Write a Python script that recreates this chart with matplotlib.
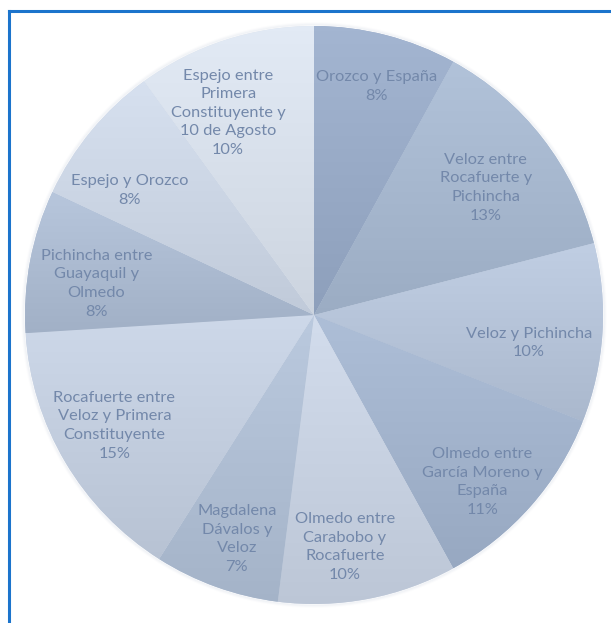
import numpy as np
import matplotlib
matplotlib.use("Agg")
import matplotlib.pyplot as plt
from matplotlib.colors import to_rgb
from matplotlib.lines import Line2D

# Share of each street segment
labels = [
    "Orozco y España",
    "Veloz entre\nRocafuerte y\nPichincha",
    "Veloz y Pichincha",
    "Olmedo entre\nGarcía Moreno y\nEspaña",
    "Olmedo entre\nCarabobo y\nRocafuerte",
    "Magdalena\nDávalos y\nVeloz",
    "Rocafuerte entre\nVeloz y Primera\nConstituyente",
    "Pichincha entre\nGuayaquil y\nOlmedo",
    "Espejo y Orozco",
    "Espejo entre\nPrimera\nConstituyente y\n10 de Agosto",
]
shares = [8, 13, 10, 11, 10, 7, 15, 8, 8, 10]

slice_colors = ["#99abc7", "#a7b8cf", "#b6c4d9", "#a3b4cd", "#c8d2e2",
                "#b0bfd4", "#c3cedf", "#adbcd2", "#ccd6e5", "#d8e0eb"]

# label placement: radius as fraction of pie radius, angular nudge (deg)
label_r = [0.82, 0.74, 0.75, 0.82, 0.81, 0.82, 0.79, 0.76, 0.77, 0.76]
label_dang = [-1.0, -1.3, -3.8, -3.4, -3.2, 0.8, -1.6, 2.6, 5.6, 5.0]

W, H = 611, 623
fig = plt.figure(figsize=(W / 100, H / 100), dpi=100)
ax = fig.add_axes([0, 0, 1, 1])

cx, cy, R = 314, H - 315, 289

wedges, _ = ax.pie(shares, colors=slice_colors, startangle=90,
                   counterclock=False, center=(cx, cy), radius=R,
                   frame=True, wedgeprops=dict(linewidth=0))
ax.set_xlim(0, W)
ax.set_ylim(0, H)
ax.set_aspect("equal")
ax.axis("off")

# vertical shading inside each slice: lighter at the top, darker at the bottom
for w, c in zip(wedges, slice_colors):
    base = np.array(to_rgb(c))
    bb = w.get_path().get_extents(w.get_transform()).transformed(ax.transData.inverted())
    x0, y0, x1, y1 = bb.x0, bb.y0, bb.x1, bb.y1
    t = np.linspace(0, 1, 64)[:, None]
    top = np.clip(base + 0.04, 0, 1)
    bot = np.clip(base - 0.045, 0, 1)
    grad = bot[None, :] * (1 - t) + top[None, :] * t
    img = np.repeat(grad[:, None, :], 2, axis=1)
    im = ax.imshow(img, extent=(x0, x1, y0, y1), origin="lower",
                   aspect="auto", interpolation="bilinear", zorder=1.5)
    im.set_clip_path(w)
ax.set_xlim(0, W)
ax.set_ylim(0, H)

# soft rim around the pie
for k, a in enumerate([0.10, 0.06, 0.03]):
    circ = plt.Circle((cx, cy), R + 1 + k, fill=False, lw=1.2,
                      color="#9fb0c8", alpha=a, zorder=1.4)
    ax.add_patch(circ)

total = sum(shares)
start = 90.0
for lab, v, rf, da in zip(labels, shares, label_r, label_dang):
    span = 360.0 * v / total
    mid = np.deg2rad(start - span / 2 + da)
    start -= span
    tx = cx + rf * R * np.cos(mid)
    ty = cy + rf * R * np.sin(mid)
    ax.text(tx, ty, f"{lab}\n{v}%", ha="center", va="center",
            fontsize=11.8, family=["Lato", "DejaVu Sans"],
            color="#7388aa", linespacing=1.42, zorder=3)

# blue frame along the top and left edges
fig.add_artist(Line2D([9 / W, 1], [1 - 10.5 / H, 1 - 10.5 / H],
                      transform=fig.transFigure, color="#1c74cc", lw=2.2))
fig.add_artist(Line2D([9 / W, 9 / W], [0, 1 - 10.5 / H],
                      transform=fig.transFigure, color="#1c74cc", lw=2.2))

fig.savefig("out.png", dpi=100, facecolor="white")
